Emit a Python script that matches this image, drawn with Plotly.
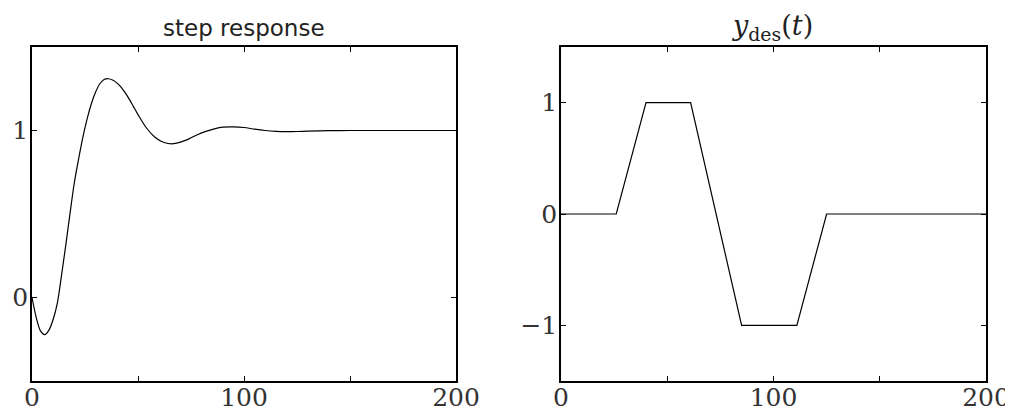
import plotly.graph_objects as go

# Left panel: step response
step_t = [0, 2, 4, 6, 8, 10, 12, 14, 16, 18, 20, 22, 24, 26, 28, 30, 32, 34, 36, 38,
          40, 42, 44, 46, 48, 50, 54, 58, 62, 66, 70, 74, 78, 82, 86, 90, 95, 100,
          105, 110, 115, 120, 125, 130, 140, 150, 160, 180, 200]
step_y = [0.0, -0.12, -0.20, -0.222, -0.195, -0.13, -0.03, 0.14, 0.32, 0.51, 0.69,
          0.83, 0.96, 1.07, 1.16, 1.23, 1.28, 1.305, 1.31, 1.302, 1.285, 1.26, 1.225,
          1.185, 1.14, 1.095, 1.015, 0.96, 0.93, 0.92, 0.93, 0.95, 0.975, 0.995, 1.01,
          1.02, 1.022, 1.018, 1.008, 1.0, 0.995, 0.993, 0.994, 0.996, 0.999, 1.0,
          1.0, 1.0, 1.0]

# Right panel: desired output y_des(t)
des_t = [0, 26, 40, 61, 85, 111, 125, 200]
des_y = [0, 0, 1, 1, -1, -1, 0, 0]

x_tickvals = [0, 50, 100, 150, 200]
x_ticktext = ["0", "", "100", "", "200"]
left_yticks = [0, 1]
right_yticks = [-1, 0, 1]

OFF = 8  # default page body margin
W, H = 1013 - OFF, 409 - OFF
def px_x(p):
    return (p - OFF) / W
def px_y(p):
    return (H - (p - OFF)) / H

fig = go.Figure()
fig.add_trace(go.Scatter(x=step_t, y=step_y, mode="lines",
                         line=dict(color="black", width=1.2, shape="spline", smoothing=0.8),
                         xaxis="x", yaxis="y", showlegend=False, hoverinfo="skip"))
fig.add_trace(go.Scatter(x=des_t, y=des_y, mode="lines",
                         line=dict(color="black", width=1.2),
                         xaxis="x2", yaxis="y2", showlegend=False, hoverinfo="skip"))

tickfont = dict(family="DejaVu Serif, Liberation Serif, serif", size=25, color="#333")
common = dict(showline=True, linecolor="black", linewidth=1.5, mirror="ticks",
              ticks="inside", ticklen=5, tickwidth=1, tickcolor="black",
              showgrid=False, zeroline=False, tickfont=tickfont, automargin=False,
              fixedrange=True)
xcommon = dict(common, ticklabelstandoff=-7)
ycommon = dict(common, ticklabelstandoff=-3)

ydom = [px_y(381), px_y(47)]
fig.update_layout(
    width=W, height=H,
    margin=dict(l=0, r=0, t=0, b=0),
    paper_bgcolor="white", plot_bgcolor="white",
    xaxis=dict(domain=[px_x(32), px_x(456)], range=[0, 200], anchor="y",
               tickvals=x_tickvals, ticktext=x_ticktext, **xcommon),
    yaxis=dict(domain=ydom, range=[-0.5, 1.5], anchor="x",
               tickvals=left_yticks, tickformat="d", **ycommon),
    xaxis2=dict(domain=[px_x(561), px_x(986)], range=[0, 200], anchor="y2",
                tickvals=x_tickvals, ticktext=x_ticktext, **xcommon),
    yaxis2=dict(domain=ydom, range=[-1.5, 1.5], anchor="x2",
                tickvals=right_yticks, tickformat="d", **ycommon),
    annotations=[
        dict(text="step response", xref="paper", yref="paper",
             x=px_x(244), y=px_y(43), xanchor="center", yanchor="bottom",
             showarrow=False,
             font=dict(family="DejaVu Sans, sans-serif", size=23, color="#222")),
        dict(text="<i>y</i><sub>des</sub>(<i>t</i>)", xref="paper", yref="paper",
             x=px_x(772), y=px_y(47), xanchor="center", yanchor="bottom",
             showarrow=False,
             font=dict(family="DejaVu Serif, serif", size=27, color="#222")),
    ],
)

fig.write_html("out.html")
